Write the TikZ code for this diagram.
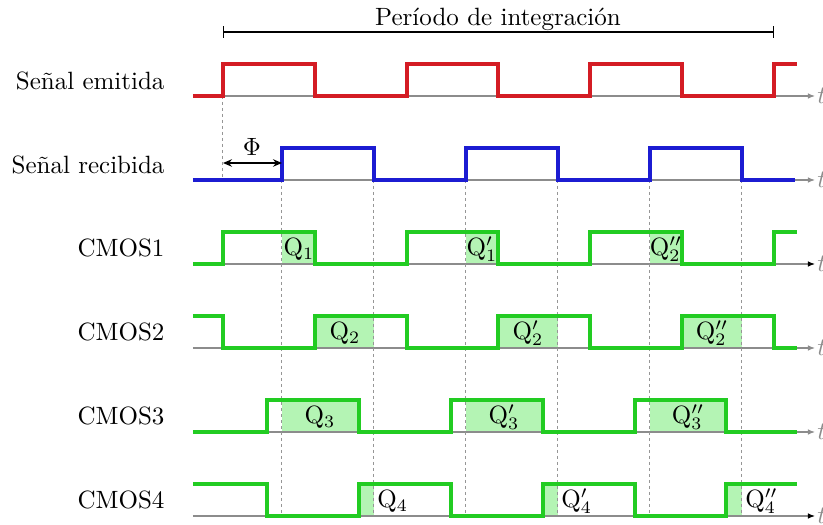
\documentclass[tikz,border=0pt]{standalone}
\usetikzlibrary{arrows.meta}
\definecolor{sigred}{RGB}{212,28,36}
\definecolor{sigblue}{RGB}{28,28,210}
\definecolor{siggreen}{RGB}{34,204,34}
\definecolor{chargefill}{RGB}{180,244,180}
\definecolor{axisgray}{RGB}{140,140,140}
\definecolor{guidegray}{RGB}{150,150,150}
\tikzset{
  wave/.style={line width=1.3pt, line join=miter},
  axisline/.style={draw=axisgray, line width=0.45pt, -{Latex[length=2.8pt,width=2.2pt]}},
  axisblack/.style={draw=axisgray, line width=0.45pt, -{Latex[length=2.8pt,width=2.2pt,color=black]}},
  guide/.style={draw=guidegray, line width=0.4pt, dash pattern=on 1.2pt off 1.2pt},
  charge/.style={fill=chargefill, draw=none},
  rowlabel/.style={anchor=east, inner sep=0pt},
  qlabel/.style={inner sep=0pt},
  tlabel/.style={anchor=west, inner sep=0pt, text=axisgray},
}
\begin{document}
\begin{tikzpicture}[x=0.4pt, y=-0.4pt]
\useasboundingbox (0,0) rectangle (823,525);

% charge areas (overlap of received pulse and CMOS window)
\begin{scope}[shift={(0,264)}]
  \fill[charge] (282,0) rectangle (315,-32);
  \fill[charge] (466,0) rectangle (498,-32);
  \fill[charge] (650,0) rectangle (682,-32);
\end{scope}
\begin{scope}[shift={(0,348)}]
  \fill[charge] (315,0) rectangle (374,-32);
  \fill[charge] (498,0) rectangle (558,-32);
  \fill[charge] (682,0) rectangle (742,-32);
\end{scope}
\begin{scope}[shift={(0,432)}]
  \fill[charge] (282,0) rectangle (359,-32);
  \fill[charge] (466,0) rectangle (543,-32);
  \fill[charge] (650,0) rectangle (726,-32);
\end{scope}
\begin{scope}[shift={(0,516)}]
  \fill[charge] (359,0) rectangle (374,-32);
  \fill[charge] (543,0) rectangle (558,-32);
  \fill[charge] (726,0) rectangle (742,-32);
\end{scope}

% time axes
\foreach \b/\st/\nm in {96/axisline/ax1,180/axisline/ax2,264/axisblack/ax3,348/axisline/ax4,432/axisline/ax5,516/axisblack/ax6}{
  \coordinate (\nm s) at (193,\b);
  \coordinate (\nm e) at (815,\b);
  \draw[\st] (\nm s) -- (\nm e);
  \node[tlabel] (\nm t) at ([xshift=0.8pt]\nm e) {$t$};
}

% guide lines at the edges
\coordinate (g0a) at (223,96);
\coordinate (g0b) at (223,180);
\draw[guide] (g0a) -- (g0b);
\foreach \x [count=\i] in {282,374,466,558,650,742}{
  \coordinate (ga\i) at (\x,180);
  \coordinate (gb\i) at (\x,516);
  \draw[guide] (ga\i) -- (gb\i);
}

% emitted signal
\begin{scope}[shift={(0,96)}]
  \draw[wave, sigred] (193,0) -- (223,0) -- (223,-32) -- (315,-32) -- (315,0) -- (407,0) -- (407,-32) -- (498,-32) -- (498,0) -- (590,0) -- (590,-32) -- (682,-32) -- (682,0) -- (774,0) -- (774,-32) -- (797,-32);
\end{scope}
% received signal
\begin{scope}[shift={(0,180)}]
  \draw[wave, sigblue] (193,0) -- (282,0) -- (282,-32) -- (374,-32) -- (374,0) -- (466,0) -- (466,-32) -- (558,-32) -- (558,0) -- (650,0) -- (650,-32) -- (742,-32) -- (742,0) -- (795,0);
\end{scope}
% CMOS1
\begin{scope}[shift={(0,264)}]
  \draw[wave, siggreen] (193,0) -- (223,0) -- (223,-32) -- (315,-32) -- (315,0) -- (407,0) -- (407,-32) -- (498,-32) -- (498,0) -- (590,0) -- (590,-32) -- (682,-32) -- (682,0) -- (774,0) -- (774,-32) -- (797,-32);
\end{scope}
% CMOS2
\begin{scope}[shift={(0,348)}]
  \draw[wave, siggreen] (193,-32) -- (223,-32) -- (223,0) -- (315,0) -- (315,-32) -- (407,-32) -- (407,0) -- (498,0) -- (498,-32) -- (590,-32) -- (590,0) -- (682,0) -- (682,-32) -- (774,-32) -- (774,0) -- (797,0);
\end{scope}
% CMOS3
\begin{scope}[shift={(0,432)}]
  \draw[wave, siggreen] (193,0) -- (267,0) -- (267,-32) -- (359,-32) -- (359,0) -- (451,0) -- (451,-32) -- (543,-32) -- (543,0) -- (635,0) -- (635,-32) -- (726,-32) -- (726,0) -- (797,0);
\end{scope}
% CMOS4
\begin{scope}[shift={(0,516)}]
  \draw[wave, siggreen] (193,-32) -- (267,-32) -- (267,0) -- (359,0) -- (359,-32) -- (451,-32) -- (451,0) -- (543,0) -- (543,-32) -- (635,-32) -- (635,0) -- (726,0) -- (726,-32) -- (797,-32);
\end{scope}

% row labels
\node[rowlabel] (lem) at (165,81) {Señal emitida};
\node[rowlabel] (lrc) at (165,165) {Señal recibida};
\node[rowlabel] (lc1) at (165,248) {CMOS1};
\node[rowlabel] (lc2) at (165,332) {CMOS2};
\node[rowlabel] (lc3) at (165,416) {CMOS3};
\node[rowlabel] (lc4) at (165,500) {CMOS4};

% integration period
\coordinate (pa) at (223,32);
\coordinate (pb) at (774,32);
\draw[line width=0.45pt, {Bar[width=4.5pt]}-{Bar[width=4.5pt]}] (pa) -- (pb);
\node[inner sep=0pt] (per) at (498,19) {Período de integración};

% phase shift
\coordinate (fa) at (223,163);
\coordinate (fb) at (282,163);
\draw[line width=0.5pt, {Stealth[length=3.6pt,width=3pt,inset=1.2pt]}-{Stealth[length=3.6pt,width=3pt,inset=1.2pt]}] (fa) -- (fb);
\node[inner sep=0pt] (phi) at (252,147) {$\Phi$};

% charge labels
\node[qlabel] (q1a) at (299,249) {Q$_1$};
\node[qlabel] (q1b) at (482,249) {Q$_1'$};
\node[qlabel] (q1c) at (666,249) {Q$_2''$};
\node[qlabel] (q2a) at (345,333) {Q$_2$};
\node[qlabel] (q2b) at (528,333) {Q$_2'$};
\node[qlabel] (q2c) at (712,333) {Q$_2''$};
\node[qlabel] (q3a) at (320,417) {Q$_3$};
\node[qlabel] (q3b) at (504,417) {Q$_3'$};
\node[qlabel] (q3c) at (688,417) {Q$_3''$};
\node[qlabel, anchor=west] (q4a) at (377,501) {Q$_4$};
\node[qlabel, anchor=west] (q4b) at (561,501) {Q$_4'$};
\node[qlabel, anchor=west] (q4c) at (745,501) {Q$_4''$};
\end{tikzpicture}
\end{document}
